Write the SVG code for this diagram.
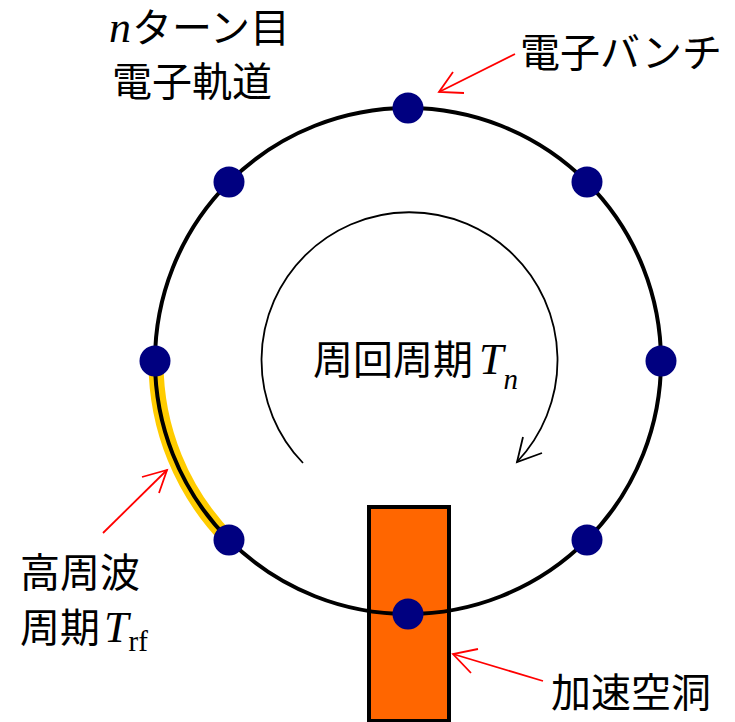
<svg xmlns="http://www.w3.org/2000/svg" width="735" height="722" viewBox="0 0 735 722">
<defs>
<style>
.jp{font-family:"Noto Sans CJK JP","Noto Sans",sans-serif;font-size:40px;fill:#000}
.it{font-family:"Liberation Serif",serif;font-style:italic}
.rm{font-family:"Liberation Serif",serif}
.red{stroke:#FF0000;stroke-width:1.8;fill:none}
.dot{fill:#000080}
</style>
</defs>
<rect width="735" height="722" fill="#FFFFFF"/>
<g id="cavity">
<rect x="369" y="507" width="80" height="214" fill="#FF6600" stroke="#000" stroke-width="4"/>
</g>
<g id="rf-period-arc">
<path d="M156,361 A253,253 0 0 0 229,540" fill="none" stroke="#FFCC00" stroke-width="15"/>
</g>
<g id="orbit">
<circle cx="408" cy="361" r="253" fill="none" stroke="#000" stroke-width="4"/>
</g>
<g id="bunches">
<circle class="dot" cx="408" cy="108" r="15.5"/>
<circle class="dot" cx="587" cy="182" r="15.5"/>
<circle class="dot" cx="661" cy="361" r="15.5"/>
<circle class="dot" cx="587" cy="540" r="15.5"/>
<circle class="dot" cx="408" cy="614" r="15.5"/>
<circle class="dot" cx="229" cy="540" r="15.5"/>
<circle class="dot" cx="155" cy="361" r="15.5"/>
<circle class="dot" cx="229" cy="182" r="15.5"/>
</g>
<g id="connectors">
<path d="M303,463 A148,148 0 1 1 517,462" fill="none" stroke="#000" stroke-width="1.8"/>
<path d="M523,437 L517,462 L542,453" fill="none" stroke="#000" stroke-width="1.8"/>
<path class="red" d="M515,54 L439,92"/>
<path class="red" d="M453,72 L439,92 L464,93"/>
<path class="red" d="M103,533 L167,470"/>
<path class="red" d="M142,477 L167,470 L159,493"/>
<path class="red" d="M543,681 L453,654"/>
<path class="red" d="M478,649 L453,654 L471,673"/>
</g>
<g id="label-orbit">
<text class="jp" x="109" y="42"><tspan class="it" font-size="44">n</tspan><tspan dx="1">ターン目</tspan></text>
<text class="jp" x="112" y="96">電子軌道</text>
</g>
<g id="label-bunch">
<text class="jp" x="520" y="67">電子バンチ</text>
</g>
<g id="label-period">
<text class="jp" x="313" y="374">周回周期<tspan class="it" font-size="44" dx="6">T</tspan><tspan class="it" font-size="29" dy="15" dx="0">n</tspan></text>
</g>
<g id="label-rf">
<text class="jp" x="20" y="642">周期<tspan class="it" font-size="44" dx="4">T</tspan><tspan class="rm" font-size="29" dy="9" dx="0">rf</tspan></text>
<text class="jp" x="20" y="587">高周波</text>
</g>
<g id="label-cavity">
<text class="jp" x="551" y="707">加速空洞</text>
</g>
</svg>
